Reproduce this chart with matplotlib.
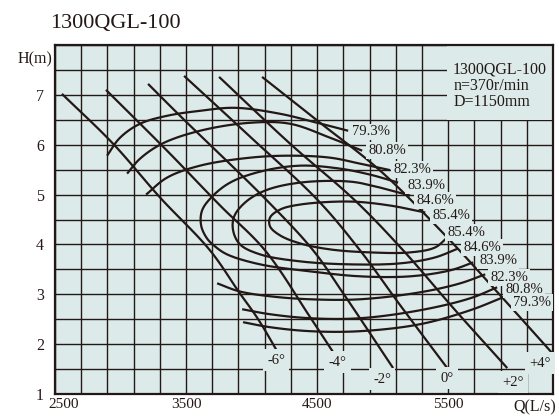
import numpy as np
import matplotlib
matplotlib.use("Agg")
import matplotlib.pyplot as plt
from matplotlib.patches import Rectangle
from matplotlib.transforms import ScaledTranslation

plt.rcParams['font.family'] = ['Liberation Serif', 'DejaVu Serif']

# ---------------- data ----------------
title = "1300QGL-100"
info_lines = ["1300QGL-100", "n=370r/min", "D=1150mm"]

x_ticks = [2500, 3500, 4500, 5500]
y_ticks = [1, 2, 3, 4, 5, 6, 7]
q_range = [2500, 6300]
h_range = [1, 8]

# blade angle lines (Q in L/s, H in m)
angle_names = ["-6°", "-4°", "-2°", "0°", "+2°", "+4°"]
ang_m6_q = [2553, 2943, 3302, 3683, 3905, 4050, 4256]
ang_m6_h = [7.02, 6.02, 4.94, 3.88, 3.04, 2.50, 1.58]
ang_m4_q = [2889, 3355, 3760, 4103, 4447, 4622]
ang_m4_h = [7.10, 5.88, 4.78, 3.88, 2.54, 1.84]
ang_m2_q = [3210, 3454, 4118, 4470, 4699, 5080]
ang_m2_h = [7.22, 6.58, 4.88, 3.88, 3.02, 1.52]
ang_0_q = [3485, 3989, 4508, 4828, 5134, 5493]
ang_0_h = [7.38, 6.16, 4.88, 3.88, 2.78, 1.52]
ang_p2_q = [3752, 4294, 4790, 5157, 5554, 5951]
ang_p2_h = [7.36, 6.02, 4.88, 3.88, 2.68, 1.52]
ang_p4_q = [4080, 4523, 4981, 5493, 5897, 6294]
ang_p4_h = [7.36, 6.44, 5.48, 4.14, 2.98, 1.82]
angle_label_q = [4187, 4653, 4996, 5493, 5996, 6202]
angle_label_h = [1.68, 1.64, 1.30, 1.32, 1.24, 1.62]

# efficiency contours
eff_793_up_q = [2897, 2996, 3149, 3355, 3607, 3874, 4218, 4500, 4737]
eff_793_up_h = [5.78, 6.14, 6.42, 6.58, 6.68, 6.74, 6.62, 6.44, 6.28]
eff_793_lo_q = [3935, 4141, 4447, 4828, 5286, 5668, 5920]
eff_793_lo_h = [2.44, 2.34, 2.26, 2.26, 2.40, 2.68, 2.94]
eff_808_up_q = [3050, 3149, 3317, 3607, 3989, 4294, 4599, 4844]
eff_808_up_h = [5.42, 5.72, 6.02, 6.28, 6.44, 6.42, 6.14, 5.88]
eff_808_lo_q = [3928, 4141, 4447, 4828, 5286, 5668, 5874]
eff_808_lo_h = [2.70, 2.60, 2.52, 2.52, 2.68, 2.92, 3.14]
eff_823_up_q = [3195, 3355, 3607, 3989, 4294, 4599, 4828, 5057]
eff_823_up_h = [5.00, 5.34, 5.58, 5.74, 5.78, 5.74, 5.62, 5.49]
eff_823_lo_q = [3737, 3905, 4141, 4447, 4828, 5286, 5592, 5783]
eff_823_lo_h = [3.22, 3.06, 2.96, 2.90, 2.90, 3.04, 3.22, 3.40]
eff_839_q = [5118, 4905, 4676, 4370, 4065, 3836, 3699, 3622, 3615, 3660, 3721,
             3813, 4065, 4447, 4828, 5210, 5516, 5691]
eff_839_h = [5.24, 5.40, 5.52, 5.58, 5.46, 5.24, 4.96, 4.68, 4.38, 4.12, 3.96,
             3.80, 3.60, 3.46, 3.36, 3.36, 3.48, 3.64]
eff_846_q = [5210, 4981, 4752, 4370, 4103, 3950, 3867, 3859, 3912, 4065, 4370,
             4752, 5134, 5401, 5577]
eff_846_h = [4.98, 5.14, 5.26, 5.24, 5.08, 4.84, 4.56, 4.28, 4.00, 3.80, 3.66,
             3.60, 3.62, 3.74, 3.92]
eff_854_q = [5325, 5057, 4752, 4370, 4218, 4141, 4141, 4218, 4370, 4599, 4905,
             5210, 5401, 5493]
eff_854_h = [4.64, 4.78, 4.86, 4.80, 4.70, 4.54, 4.36, 4.18, 4.02, 3.90, 3.84,
             3.84, 3.94, 4.14]

eff_label_text = ["79.3%", "80.8%", "82.3%", "83.9%", "84.6%", "85.4%",
                  "85.4%", "84.6%", "83.9%", "82.3%", "80.8%", "79.3%"]
eff_label_q = [4767, 4889, 5080, 5187, 5256, 5378,
               5493, 5615, 5737, 5821, 5935, 5996]
eff_label_h = [6.26, 5.88, 5.50, 5.18, 4.88, 4.58,
               4.24, 3.94, 3.68, 3.34, 3.10, 2.84]

# ---------------- style ----------------
BG = '#dcebea'
INK = '#231815'
SX, SY = 0.131, 50.0   # approx pixel scale used only for smooth drawing


def smooth(q, h, n=14):
    p = np.column_stack([np.asarray(q, float) * SX, np.asarray(h, float) * SY])
    if len(p) < 3:
        return p[:, 0] / SX, p[:, 1] / SY
    p = np.vstack([2 * p[0] - p[1], p, 2 * p[-1] - p[-2]])
    out = []
    for i in range(1, len(p) - 2):
        p0, p1, p2, p3 = p[i - 1], p[i], p[i + 1], p[i + 2]

        def tj(ti, a, b):
            return ti + max(np.linalg.norm(b - a), 1e-6) ** 0.5
        t0 = 0.0
        t1 = tj(t0, p0, p1)
        t2 = tj(t1, p1, p2)
        t3 = tj(t2, p2, p3)
        t = np.linspace(t1, t2, n, endpoint=False)[:, None]
        A1 = (t1 - t) / (t1 - t0) * p0 + (t - t0) / (t1 - t0) * p1
        A2 = (t2 - t) / (t2 - t1) * p1 + (t - t1) / (t2 - t1) * p2
        A3 = (t3 - t) / (t3 - t2) * p2 + (t - t2) / (t3 - t2) * p3
        B1 = (t2 - t) / (t2 - t0) * A1 + (t - t0) / (t2 - t0) * A2
        B2 = (t3 - t) / (t3 - t1) * A2 + (t - t1) / (t3 - t1) * A3
        out.append((t2 - t) / (t2 - t1) * B1 + (t - t1) / (t2 - t1) * B2)
    out.append(p[-2][None, :])
    pts = np.vstack(out)
    return pts[:, 0] / SX, pts[:, 1] / SY


fig = plt.figure(figsize=(5.59, 4.16), dpi=100)
ax = fig.add_axes([55 / 559, 22 / 416, (553 - 55) / 559, (394 - 45) / 416])
ax.set_facecolor(BG)
ax.set_xlim(*q_range)
ax.set_ylim(*h_range)

ax.set_xticks(x_ticks)
ax.set_xticks(np.arange(q_range[0], q_range[1] + 1, 200), minor=True)
ax.set_yticks(y_ticks)
ax.set_yticks(np.arange(h_range[0], h_range[1] + 0.01, 0.5), minor=True)
ax.set_xticklabels([str(v) for v in x_ticks])
ax.set_yticklabels([str(v) for v in y_ticks])
ax.tick_params(which='both', length=0)
ax.tick_params(axis='x', pad=3, labelsize=11, colors=INK)
ax.tick_params(axis='y', pad=8, labelsize=11.5, colors=INK)
ax.set_axisbelow(True)
ax.grid(which='both', color=INK, linewidth=1.0)
for s in ax.spines.values():
    s.set_color(INK)
    s.set_linewidth(1.6)

# shift first x label right a little (as in reference)
lab0 = ax.get_xticklabels()[0]
lab0.set_transform(lab0.get_transform() + ScaledTranslation(9 / 100, 0, fig.dpi_scale_trans))

# info box mask
ax.add_patch(Rectangle((5488, 6.5), 830, 1.6, facecolor=BG, edgecolor='none', zorder=1))

angle_series = [(ang_m6_q, ang_m6_h), (ang_m4_q, ang_m4_h), (ang_m2_q, ang_m2_h),
                (ang_0_q, ang_0_h), (ang_p2_q, ang_p2_h), (ang_p4_q, ang_p4_h)]
for q, h in angle_series:
    xs, ys = smooth(q, h)
    ax.plot(xs, ys, color=INK, lw=1.6, zorder=3, solid_capstyle='butt')

eff_series = [(eff_793_up_q, eff_793_up_h), (eff_793_lo_q, eff_793_lo_h),
              (eff_808_up_q, eff_808_up_h), (eff_808_lo_q, eff_808_lo_h),
              (eff_823_up_q, eff_823_up_h), (eff_823_lo_q, eff_823_lo_h),
              (eff_839_q, eff_839_h), (eff_846_q, eff_846_h), (eff_854_q, eff_854_h)]
for q, h in eff_series:
    xs, ys = smooth(q, h)
    ax.plot(xs, ys, color=INK, lw=1.6, zorder=3, solid_capstyle='butt')

box = dict(boxstyle='square,pad=0.12', fc=BG, ec='none')
for t, q, h in zip(eff_label_text, eff_label_q, eff_label_h):
    ax.text(q, h, t, ha='left', va='center', fontsize=10.5, color=INK,
            bbox=box, zorder=4)

abox = dict(boxstyle='square,pad=0.3', fc=BG, ec='none')
for t, q, h in zip(angle_names, angle_label_q, angle_label_h):
    ax.text(q, h, t, ha='center', va='center', fontsize=10.5, color=INK,
            bbox=abox, zorder=4)

for i, line in enumerate(info_lines):
    ax.text(5538, 7.42 - 0.325 * i, line, ha='left', va='baseline',
            fontsize=11.5, color=INK, zorder=4)

ax.text(2478, 7.72, "H(m)", ha='right', va='center', fontsize=11.5,
        color=INK, clip_on=False)
ax.text(6325, 0.74, "Q(L/s)", ha='right', va='center', fontsize=11.5,
        color=INK, clip_on=False)

fig.text(50 / 559, 1 - 28 / 416, title, ha='left', va='baseline',
         fontsize=16, color=INK)

fig.savefig("out.png", dpi=100, facecolor='white')
